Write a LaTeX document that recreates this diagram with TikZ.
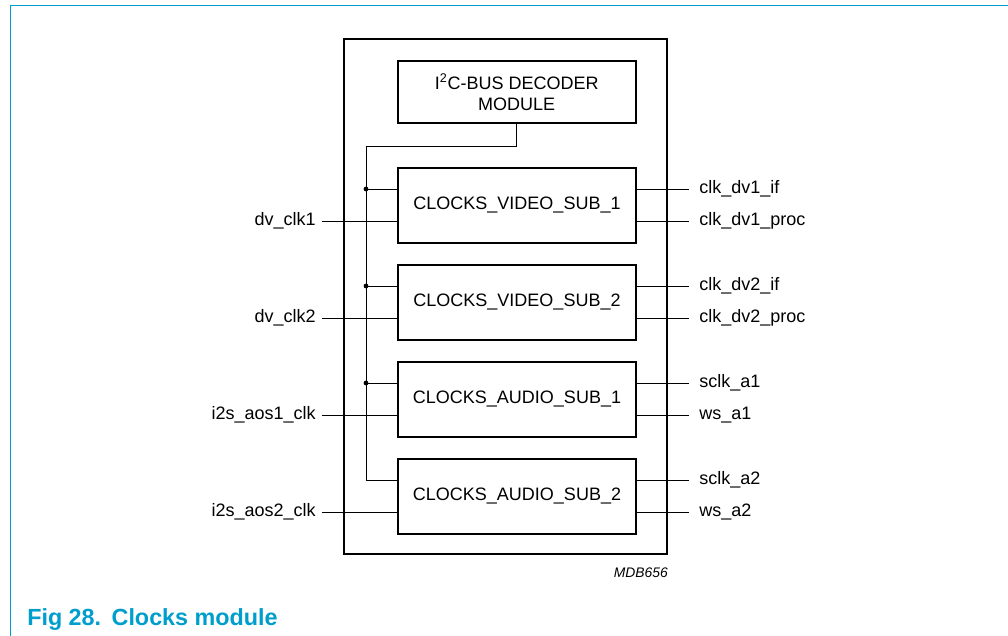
\documentclass[tikz,border=0pt]{standalone}
\usepackage{fontspec}
\setmainfont{Liberation Sans}
\definecolor{nxpblue}{RGB}{0,158,204}
\tikzstyle{block}=[draw, line width=1.5pt, inner sep=0pt, minimum width=178.5pt, font=\fontsize{13.5pt}{15.75pt}\selectfont]
\tikzstyle{sub}=[block, minimum height=56.25pt]
\tikzstyle{pin}=[inner ysep=0pt, text height=0.9em, text depth=0.18em, font=\fontsize{13.5pt}{16pt}\selectfont]
\tikzstyle{lpin}=[pin, anchor=east, inner xsep=4.5pt]
\tikzstyle{rpin}=[pin, anchor=west, inner xsep=7.5pt]
\tikzstyle{wire}=[line width=0.75pt]

\begin{document}
\begin{tikzpicture}[x=0.75pt, y=-0.75pt]
    \useasboundingbox (0,0) rectangle (1008,636);
    \draw[nxpblue, line width=1.1pt] (10.3,636) -- (10.3,5.3) -- (1008,5.3);
    % module and sub blocks
    \node[draw, line width=1.5pt, inner sep=0pt, minimum width=242.25pt, minimum height=386.25pt] (clocks) at (505.5,296.5) {};
    \node[block, minimum height=46.5pt, align=center] (dec) at (516.7,92) {I\textsuperscript{2}C-BUS DECODER\\MODULE};
    \node[sub] (V1) at (517,205) {CLOCKS\_VIDEO\_SUB\_1};
    \node[sub] (V2) at (517,302) {CLOCKS\_VIDEO\_SUB\_2};
    \node[sub] (A1) at (517,399) {CLOCKS\_AUDIO\_SUB\_1};
    \node[sub] (A2) at (517,496) {CLOCKS\_AUDIO\_SUB\_2};
    % inputs
    \node[lpin] (dvclk1) at (322,221) {dv\_clk1};
    \node[lpin] (dvclk2) at (322,318) {dv\_clk2};
    \node[lpin] (aos1)   at (322,415) {i2s\_aos1\_clk};
    \node[lpin] (aos2)   at (322,512) {i2s\_aos2\_clk};
    \draw[wire] (dvclk1.east) -- (dvclk1.east -| V1.west);
    \draw[wire] (dvclk2.east) -- (dvclk2.east -| V2.west);
    \draw[wire] (aos1.east) -- (aos1.east -| A1.west);
    \draw[wire] (aos2.east) -- (aos2.east -| A2.west);
    % outputs
    \node[rpin] (dv1if)   at (689,189) {clk\_dv1\_if};
    \node[rpin] (dv1proc) at (689,221) {clk\_dv1\_proc};
    \node[rpin] (dv2if)   at (689,286) {clk\_dv2\_if};
    \node[rpin] (dv2proc) at (689,318) {clk\_dv2\_proc};
    \node[rpin] (sclka1)  at (689,383) {sclk\_a1};
    \node[rpin] (wsa1)    at (689,415) {ws\_a1};
    \node[rpin] (sclka2)  at (689,480) {sclk\_a2};
    \node[rpin] (wsa2)    at (689,512) {ws\_a2};
    \draw[wire] (V1.east |- dv1if.west) -- (dv1if.west);
    \draw[wire] (V1.east |- dv1proc.west) -- (dv1proc.west);
    \draw[wire] (V2.east |- dv2if.west) -- (dv2if.west);
    \draw[wire] (V2.east |- dv2proc.west) -- (dv2proc.west);
    \draw[wire] (A1.east |- sclka1.west) -- (sclka1.west);
    \draw[wire] (A1.east |- wsa1.west) -- (wsa1.west);
    \draw[wire] (A2.east |- sclka2.west) -- (sclka2.west);
    \draw[wire] (A2.east |- wsa2.west) -- (wsa2.west);
    % decoder bus
    \coordinate (bus) at (366,146);
    \coordinate (V1in) at ([yshift=12pt]V1.west);
    \coordinate (V2in) at ([yshift=12pt]V2.west);
    \coordinate (A1in) at ([yshift=12pt]A1.west);
    \coordinate (A2in) at ([yshift=12pt]A2.west);
    \draw[wire] (dec.south) |- (bus) |- (A2in);
    \draw[wire] (bus |- V1in) -- (V1in);
    \draw[wire] (bus |- V2in) -- (V2in);
    \draw[wire] (bus |- A1in) -- (A1in);
    \fill (bus |- V1in) circle (1.8pt);
    \fill (bus |- V2in) circle (1.8pt);
    \fill (bus |- A1in) circle (1.8pt);
    % labels
    \node[anchor=east, inner sep=0pt, font=\fontsize{10.4pt}{12pt}\selectfont\itshape] (code) at (668,573) {MDB656};
    \node[anchor=base west, inner sep=0pt, text=nxpblue, font=\fontsize{17.5pt}{20pt}\selectfont\bfseries] (caption) at (27,625) {Fig 28.\hspace{0.45em}Clocks module};
\end{tikzpicture}
\end{document}
